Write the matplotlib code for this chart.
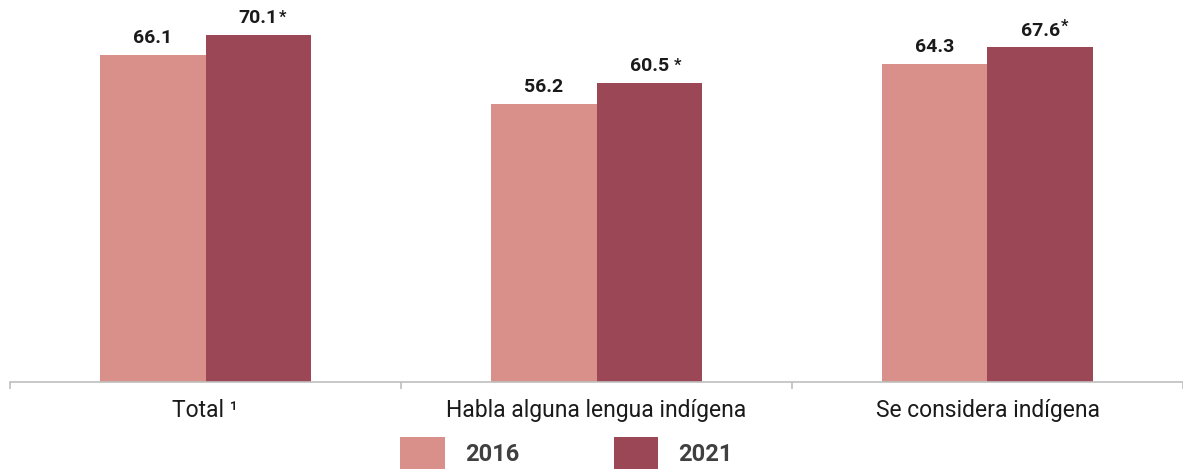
import matplotlib.pyplot as plt
import numpy as np

# data
categories = ['Total \u00b9', 'Habla alguna lengua indígena', 'Se considera indígena']
years = ['2016', '2021']
vals_2016 = [66.1, 56.2, 64.3]
vals_2021 = [70.1, 60.5, 67.6]
star_2021 = [True, True, True]

col_2016 = '#DA908A'
col_2021 = '#9B4755'

plt.rcParams['font.family'] = ['Roboto', 'DejaVu Sans']

fig = plt.figure(figsize=(11.83, 4.71), dpi=100)
ax = fig.add_axes([10/1183, 1 - 382/471, 1173/1183, 382/471])

x = np.arange(len(categories))
w = 0.27
b1 = ax.bar(x - w/2, vals_2016, w, color=col_2016, label=years[0])
b2 = ax.bar(x + w/2, vals_2021, w, color=col_2021, label=years[1])

ax.set_xlim(-0.5, -0.5 + 1173/393.5)
ax.set_ylim(0, 382/4.95)

# value labels
for bars, vals, stars in [(b1, vals_2016, None), (b2, vals_2021, star_2021)]:
    for i, (r, v) in enumerate(zip(bars, vals)):
        t = ax.annotate(f'{v:.1f}', xy=(r.get_x() + r.get_width()/2, v),
                        xytext=(0, 8.5), textcoords='offset points',
                        ha='center', va='baseline', fontsize=14,
                        fontweight='bold', color='#1a1a1a')
        if stars is not None and stars[i]:
            dx, dy = [(0.5, -0.5), (3.5, -0.5), (0.5, 2)][i]
            ax.annotate('*', xy=(1, 1), xycoords=t, xytext=(dx, dy),
                        textcoords='offset points', ha='left', va='top',
                        fontsize=12, fontweight='bold', color='#1a1a1a')

for s in ['top', 'right', 'left']:
    ax.spines[s].set_visible(False)
ax.spines['bottom'].set_color('#BFBFBF')
ax.spines['bottom'].set_linewidth(1.2)
ax.set_yticks([])

ax.set_xticks(x)
ax.set_xticklabels(categories, fontsize=16.5, color='#1a1a1a')
ax.tick_params(axis='x', which='major', length=0, pad=12)
ax.set_xticks(np.arange(-0.5, len(categories)), minor=True)
ax.tick_params(axis='x', which='minor', length=5, width=1.2, color='#BFBFBF')

leg = ax.legend(handles=[b1, b2], labels=years, ncol=2, frameon=False,
                loc='upper left', bbox_to_anchor=(400/1183, 1 - 437/471),
                bbox_transform=fig.transFigure, borderaxespad=0, borderpad=0,
                fontsize=17, prop={'weight': 'bold', 'size': 17},
                labelcolor='#404040', handlelength=1.9, handleheight=1.7,
                handletextpad=0.85, columnspacing=4.0)

fig.savefig('out.png', dpi=100)
